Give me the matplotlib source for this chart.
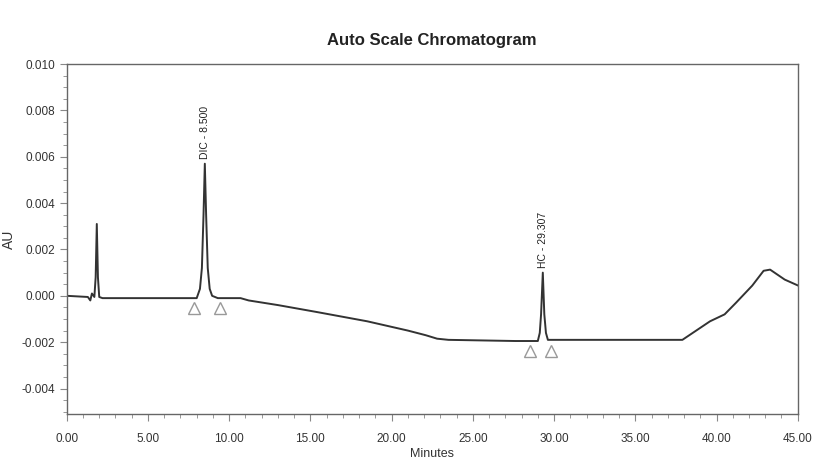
import matplotlib
matplotlib.use('Agg')
import matplotlib.pyplot as plt
from matplotlib.ticker import MultipleLocator, FormatStrFormatter

plt.rcParams['font.family'] = ['Liberation Sans Narrow', 'Liberation Sans', 'DejaVu Sans']

# trace (minutes, AU)
time_min = [0.0, 1.3, 1.45, 1.55, 1.7, 1.78, 1.85, 1.92, 2.0, 2.2,
            8.0, 8.2, 8.32, 8.42, 8.5, 8.58, 8.68, 8.8, 8.95, 9.3,
            10.7, 11.2, 13.0, 15.4, 18.5, 21.0, 22.1, 22.8, 23.5, 27.6,
            29.0, 29.12, 29.2, 29.307, 29.4, 29.5, 29.62,
            32.5, 37.9, 39.6, 40.5, 41.2, 42.2, 42.9, 43.3, 44.2, 45.0]
au = [0.0, -0.00005, -0.0002, 0.0001, -0.00005, 0.0008, 0.0031, 0.0008, -0.00005, -0.0001,
      -0.0001, 0.0003, 0.0012, 0.0035, 0.0057, 0.0035, 0.0012, 0.0003, 0.0, -0.0001,
      -0.0001, -0.0002, -0.0004, -0.0007, -0.0011, -0.0015, -0.0017, -0.00185, -0.0019, -0.00195,
      -0.00195, -0.0016, -0.0008, 0.0010, -0.0008, -0.0016, -0.0019,
      -0.0019, -0.0019, -0.0011, -0.0008, -0.0003, 0.00044, 0.00108, 0.00113, 0.0007, 0.00045]

# named peaks
peak_names = ['DIC - 8.500', 'HC - 29.307']
peak_rt = [8.5, 29.307]
peak_top = [0.0057, 0.0010]

# integration start / end markers
mark_t = [7.86, 9.44, 28.5, 29.84]
mark_v = [-0.00052, -0.00052, -0.0024, -0.0024]

fig = plt.figure(figsize=(8.14, 4.71), dpi=100)
ax = fig.add_axes([0.082, 0.121, 0.898, 0.743])

ax.plot(time_min, au, color='#333333', lw=1.4)
ax.plot(mark_t, mark_v, ls='none', marker='^', ms=9, mfc='none', mec='#999999', mew=1)

for name, rt, top in zip(peak_names, peak_rt, peak_top):
    ax.text(rt, top + 0.0002, name, rotation=90, ha='center', va='bottom',
            fontsize=7.5, color='#222222')

ax.set_xlim(0, 45)
ax.set_ylim(-0.0051, 0.010)
ax.xaxis.set_major_locator(MultipleLocator(5))
ax.xaxis.set_minor_locator(MultipleLocator(1))
ax.yaxis.set_major_locator(MultipleLocator(0.002))
ax.yaxis.set_minor_locator(MultipleLocator(0.0005))
ax.xaxis.set_major_formatter(FormatStrFormatter('%.2f'))
ax.yaxis.set_major_formatter(FormatStrFormatter('%.3f'))
ax.tick_params(which='both', color='#888888', labelsize=8.5, labelcolor='#333333')
ax.tick_params(which='major', length=5)
ax.tick_params(which='minor', length=3)
ax.tick_params(axis='x', pad=9)
for sp in ax.spines.values():
    sp.set_color('#666666')
    sp.set_linewidth(1)

ax.set_title('Auto Scale Chromatogram', fontsize=12, fontweight='bold', color='#222222', pad=14)
ax.set_xlabel('Minutes', fontsize=9, color='#333333', labelpad=2)
ax.set_ylabel('AU', fontsize=10, color='#333333')
ax.yaxis.set_label_coords(-0.07, 0.5)

fig.savefig('out.png', dpi=100)
